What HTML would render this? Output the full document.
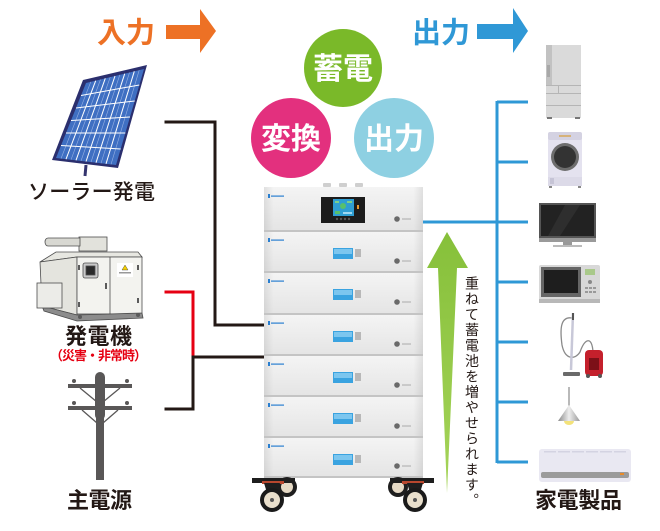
<!DOCTYPE html>
<html><head><meta charset="utf-8"><style>
html,body{margin:0;padding:0;background:#fff;}
#c{position:relative;width:660px;height:531px;overflow:hidden;font-family:"Liberation Sans","Noto Sans CJK JP",sans-serif;}
svg{position:absolute;left:0;top:0;}
.vt{position:absolute;left:464px;top:276px;writing-mode:vertical-rl;font-size:14px;letter-spacing:1.5px;line-height:16px;color:#231815;font-family:"Liberation Sans","Noto Sans CJK JP",sans-serif;}
</style></head><body><div id="c">
<svg width="660" height="531" viewBox="0 0 660 531" xmlns="http://www.w3.org/2000/svg" font-family="Liberation Sans, Noto Sans CJK JP, sans-serif">
<defs>
<linearGradient id="mod" x1="0" y1="0" x2="0" y2="1"><stop offset="0" stop-color="#f4f4f4"/><stop offset="1" stop-color="#e4e4e4"/></linearGradient>
<linearGradient id="modh" x1="0" y1="0" x2="1" y2="0"><stop offset="0" stop-color="#000" stop-opacity="0.08"/><stop offset="0.06" stop-color="#000" stop-opacity="0"/><stop offset="0.94" stop-color="#000" stop-opacity="0"/><stop offset="1" stop-color="#000" stop-opacity="0.08"/></linearGradient>
<linearGradient id="shade" x1="0" y1="0" x2="1" y2="0"><stop offset="0" stop-color="#8a8a8a"/><stop offset="0.5" stop-color="#eee"/><stop offset="1" stop-color="#9a9a9a"/></linearGradient>
<linearGradient id="arr" x1="0" y1="0" x2="0" y2="1"><stop offset="0" stop-color="#86c03a"/><stop offset="1" stop-color="#a6d45a"/></linearGradient>
</defs>

<text x="97" y="42.5" font-size="29" font-weight="bold" fill="#ed7125" textLength="58">入力</text>
<polygon points="166,25 200,25 200,9 216,31 200,53 200,39 166,39" fill="#ed7125"/>
<text x="412" y="42.5" font-size="29" font-weight="bold" fill="#2f98d6" textLength="58">出力</text>
<polygon points="477,24 513,24 513,8 528,31 513,53 513,39 477,39" fill="#2f98d6"/>

<circle cx="343" cy="68" r="39" fill="#7ab929"/>
<text x="343" y="79" font-size="30" font-weight="bold" fill="#fff" text-anchor="middle">蓄電</text>
<circle cx="291" cy="138" r="40" fill="#e3307e"/>
<text x="291" y="149" font-size="30" font-weight="bold" fill="#fff" text-anchor="middle">変換</text>
<circle cx="394" cy="138" r="40" fill="#8ed0e2"/>
<text x="394" y="149" font-size="30" font-weight="bold" fill="#fff" text-anchor="middle">出力</text>

<line x1="86" y1="165" x2="85" y2="176" stroke="#34346e" stroke-width="3"/>
<polygon points="83,80 147,65 118,168 52,160" fill="#2b2f6e"/>
<polygon points="86,83 144,69 116,165 56,158" fill="#3f6fc2"/>
<g stroke="#dfe8ff" stroke-width="0.6" opacity="0.55">
<line x1="90.8" y1="81.8" x2="61" y2="158.6"/><line x1="100.5" y1="79.5" x2="71" y2="159.8"/><line x1="110.2" y1="77.2" x2="81" y2="160.9"/><line x1="119.8" y1="74.8" x2="91" y2="162.1"/><line x1="129.5" y1="72.5" x2="101" y2="163.3"/><line x1="139.2" y1="70.2" x2="111" y2="164.4"/>
</g>
<g stroke="#ffffff" stroke-width="1">
<line x1="95.7" y1="80.7" x2="66" y2="159.2"/><line x1="105.3" y1="78.3" x2="76" y2="160.3"/><line x1="115" y1="76" x2="86" y2="161.5"/><line x1="124.7" y1="73.7" x2="96" y2="162.7"/><line x1="134.3" y1="71.3" x2="106" y2="163.8"/>
<line x1="81" y1="95.5" x2="139.3" y2="85"/><line x1="76" y1="108" x2="134.7" y2="101"/><line x1="71" y1="120.5" x2="130" y2="117"/><line x1="66" y1="133" x2="125.3" y2="133"/><line x1="61" y1="145.5" x2="120.7" y2="149"/>
</g>
<text x="28" y="199" font-size="21" font-weight="500" fill="#231815" textLength="127">ソーラー発電</text>

<g stroke="#4d4d4d" stroke-width="0.8">
<rect x="79" y="237" width="28" height="14" fill="#e2e2dc"/>
<path d="M48 238 h32 v8 h-32 a3 4 0 0 1 0 -8z" fill="#d8d8d2"/>
<polygon points="40,262 56,252 138,252 142,257 77,257" fill="#e7e7e1"/>
<polygon points="40,262 77,257 77,315 42,306" fill="#e4e4de"/>
<rect x="77" y="257" width="65" height="57" fill="#f3f3ef"/>
<polygon points="42,306 77,315 142,313 143,318 77,321 44,311" fill="#8c8c8c"/>
<rect x="37" y="283" width="25" height="25" fill="#ececE8"/>
<line x1="110" y1="257" x2="110" y2="314"/>
<rect x="83" y="263" width="15" height="15" rx="2" fill="#c9c9c9"/>
<rect x="86" y="266" width="9" height="9" fill="#2a2a2a"/>
<rect x="117" y="263" width="16" height="14" fill="#fff" stroke="none"/>
</g>
<polygon points="125,265 128,270 122,270" fill="#f5d000" stroke="#333" stroke-width="0.4"/>
<rect x="119" y="272" width="12" height="1.5" fill="#999"/>
<g fill="#5a5a5a"><rect x="78" y="265" width="2" height="5"/><rect x="78" y="302" width="2" height="5"/><rect x="137" y="265" width="2" height="5"/><rect x="137" y="298" width="2" height="5"/><rect x="105" y="283" width="2" height="6"/><circle cx="80" cy="317" r="2"/><circle cx="138" cy="315" r="2"/></g>
<text x="98.5" y="344" font-size="22" font-weight="bold" fill="#231815" text-anchor="middle" textLength="67">発電機</text>
<text x="98.5" y="360" font-size="13" font-weight="bold" fill="#e60012" text-anchor="middle" textLength="97">（災害・非常時）</text>

<g fill="#595757" stroke="#595757">
<rect x="95" y="372" width="10" height="48" rx="5" stroke="none"/>
<rect x="96" y="410" width="8" height="70" stroke="none"/>
<rect x="68" y="384" width="64" height="4" stroke="none"/>
<rect x="68" y="406" width="64" height="4" stroke="none"/>
<line x1="80" y1="388" x2="97" y2="402" stroke-width="1.3"/><line x1="120" y1="388" x2="103" y2="402" stroke-width="1.3"/>
<line x1="82" y1="410" x2="97" y2="423" stroke-width="1.3"/><line x1="118" y1="410" x2="103" y2="423" stroke-width="1.3"/>
<circle cx="74" cy="381" r="2" stroke="none"/><circle cx="127" cy="381" r="2" stroke="none"/><circle cx="74" cy="403" r="2" stroke="none"/><circle cx="127" cy="403" r="2" stroke="none"/>
</g>
<text x="99.5" y="508" font-size="22" font-weight="bold" fill="#231815" text-anchor="middle" textLength="65">主電源</text>

<g fill="none" stroke-width="3" stroke-linecap="square">
<polyline points="166,122 215,122 215,325 264,325" stroke="#231815"/>
<polyline points="166,292 193,292 193,357" stroke="#e60012"/>
<polyline points="193,357 264,357" stroke="#231815"/>
<polyline points="193,357 193,409 166,409" stroke="#231815"/>
</g>

<g fill="#cfcfcf"><rect x="323" y="183" width="8" height="4" rx="1"/><rect x="339" y="183" width="8" height="4" rx="1"/><rect x="355" y="183" width="8" height="4" rx="1"/></g>
<g>
<rect x="264" y="187" width="159" height="45" fill="url(#mod)"/>
<rect x="264" y="232" width="159" height="41" fill="url(#mod)"/>
<rect x="264" y="273" width="159" height="42" fill="url(#mod)"/>
<rect x="264" y="315" width="159" height="41" fill="url(#mod)"/>
<rect x="264" y="356" width="159" height="41" fill="url(#mod)"/>
<rect x="264" y="397" width="159" height="41" fill="url(#mod)"/>
<rect x="264" y="438" width="159" height="40" fill="url(#mod)"/>
<rect x="264" y="187" width="159" height="291" fill="url(#modh)"/>
</g>
<g fill="#c4c4c4"><rect x="264" y="230" width="159" height="2"/><rect x="264" y="271" width="159" height="2"/><rect x="264" y="313" width="159" height="2"/><rect x="264" y="354" width="159" height="2"/><rect x="264" y="395" width="159" height="2"/><rect x="264" y="436" width="159" height="2"/><rect x="264" y="476" width="159" height="2"/></g>
<rect x="321" y="197" width="44" height="26" fill="#1c1c1c"/>
<rect x="333" y="199" width="21" height="17" fill="#2f9ed2"/>
<circle cx="343" cy="206" r="3" fill="#58c06a"/>
<rect x="335" y="201" width="4" height="2" fill="#7cd08a"/><rect x="347" y="201" width="5" height="2" fill="#7cd08a"/><rect x="335" y="211" width="5" height="3" fill="#58c06a"/><rect x="343" y="212" width="9" height="2" fill="#9fd8f0"/>
<rect x="357" y="205" width="2" height="4" fill="#e89a30"/>
<g fill="#555"><circle cx="337" cy="219" r="1.2"/><circle cx="341" cy="219" r="1.2"/><circle cx="345" cy="219" r="1.2"/><circle cx="349" cy="219" r="1.2"/></g>
<g fill="#2a7fd0">
<rect x="268" y="194" width="2" height="4"/><rect x="271" y="195.5" width="13" height="1.2"/>
<rect x="268" y="238" width="2" height="4"/><rect x="271" y="239.5" width="13" height="1.2"/>
<rect x="268" y="279" width="2" height="4"/><rect x="271" y="280.5" width="13" height="1.2"/>
<rect x="268" y="321" width="2" height="4"/><rect x="271" y="322.5" width="13" height="1.2"/>
<rect x="268" y="362" width="2" height="4"/><rect x="271" y="363.5" width="13" height="1.2"/>
<rect x="268" y="403" width="2" height="4"/><rect x="271" y="404.5" width="13" height="1.2"/>
<rect x="268" y="444" width="2" height="4"/><rect x="271" y="445.5" width="13" height="1.2"/>
</g>
<g>
<circle cx="397" cy="219" r="2.8" fill="#6a6a6a"/><rect x="402" y="218.5" width="9" height="1" fill="#aaa"/>
<circle cx="397" cy="261" r="2.8" fill="#6a6a6a"/><rect x="402" y="260.5" width="9" height="1" fill="#aaa"/>
<circle cx="397" cy="302" r="2.8" fill="#6a6a6a"/><rect x="402" y="301.5" width="9" height="1" fill="#aaa"/>
<circle cx="397" cy="344" r="2.8" fill="#6a6a6a"/><rect x="402" y="343.5" width="9" height="1" fill="#aaa"/>
<circle cx="397" cy="385" r="2.8" fill="#6a6a6a"/><rect x="402" y="384.5" width="9" height="1" fill="#aaa"/>
<circle cx="397" cy="426" r="2.8" fill="#6a6a6a"/><rect x="402" y="425.5" width="9" height="1" fill="#aaa"/>
<circle cx="397" cy="466" r="2.8" fill="#6a6a6a"/><rect x="402" y="465.5" width="9" height="1" fill="#aaa"/>
</g>
<g>
<rect x="333" y="248" width="20" height="11" fill="#3aa3e0"/><rect x="334" y="249" width="18" height="5" fill="#7cc6ef"/>
<rect x="333" y="289" width="20" height="11" fill="#3aa3e0"/><rect x="334" y="290" width="18" height="5" fill="#7cc6ef"/>
<rect x="333" y="331" width="20" height="11" fill="#3aa3e0"/><rect x="334" y="332" width="18" height="5" fill="#7cc6ef"/>
<rect x="333" y="372" width="20" height="11" fill="#3aa3e0"/><rect x="334" y="373" width="18" height="5" fill="#7cc6ef"/>
<rect x="333" y="413" width="20" height="11" fill="#3aa3e0"/><rect x="334" y="414" width="18" height="5" fill="#7cc6ef"/>
<rect x="333" y="454" width="20" height="11" fill="#3aa3e0"/><rect x="334" y="455" width="18" height="5" fill="#7cc6ef"/>
</g>
<g fill="#b8b8b8">
<rect x="355" y="249" width="6" height="8"/><rect x="355" y="290" width="6" height="8"/><rect x="355" y="332" width="6" height="8"/><rect x="355" y="373" width="6" height="8"/><rect x="355" y="414" width="6" height="8"/><rect x="355" y="455" width="6" height="8"/>
</g>
<g>
<circle cx="287" cy="487" r="10" fill="#1e1e1e"/><circle cx="287" cy="487" r="6" fill="#e6dac6"/>
<circle cx="398" cy="487" r="10" fill="#1e1e1e"/><circle cx="398" cy="487" r="6" fill="#e6dac6"/>
<rect x="252" y="478" width="43" height="5" fill="#1e1e1e"/><rect x="262" y="481" width="22" height="3" fill="#b8472e"/>
<rect x="390" y="478" width="44" height="5" fill="#1e1e1e"/><rect x="402" y="481" width="22" height="3" fill="#b8472e"/>
<path d="M264 483 L280 483 L276 496 L268 496Z" fill="#1e1e1e"/>
<path d="M407 483 L423 483 L419 496 L411 496Z" fill="#1e1e1e"/>
<circle cx="272" cy="500" r="12" fill="#1a1a1a"/><circle cx="272" cy="500" r="8" fill="#e9dfcc"/><circle cx="272" cy="500" r="2" fill="#555"/>
<circle cx="415" cy="500" r="12" fill="#1a1a1a"/><circle cx="415" cy="500" r="8" fill="#e9dfcc"/><circle cx="415" cy="500" r="2" fill="#555"/>
</g>

<polygon points="447,232 468,268 457,268 447,493 438,268 427,268" fill="url(#arr)"/>

<g stroke="#2f98d6" stroke-width="3" fill="none">
<line x1="497" y1="101" x2="497" y2="463"/>
<line x1="497" y1="102" x2="528" y2="102"/>
<line x1="497" y1="162" x2="528" y2="162"/>
<line x1="423" y1="222" x2="528" y2="222"/>
<line x1="497" y1="282" x2="528" y2="282"/>
<line x1="497" y1="342" x2="528" y2="342"/>
<line x1="497" y1="402" x2="528" y2="402"/>
<line x1="497" y1="462" x2="528" y2="462"/>
</g>

<rect x="546" y="45" width="35" height="73" fill="#dadada"/>
<rect x="546" y="45" width="6" height="40" fill="#c2c2c2"/>
<rect x="547" y="65" width="3" height="12" fill="#a8a8a8"/>
<g fill="#b5b5b5"><rect x="546" y="85" width="35" height="1"/><rect x="546" y="93" width="35" height="1"/><rect x="546" y="105" width="35" height="1"/><rect x="558" y="85" width="1" height="8"/></g>
<rect x="547" y="117" width="5" height="2" fill="#777"/><rect x="575" y="117" width="5" height="2" fill="#777"/>
<rect x="548" y="132" width="34" height="54" rx="3" fill="#e4e2ef"/>
<rect x="548" y="132" width="34" height="8" rx="2" fill="#d4d2e2"/>
<rect x="559" y="135" width="12" height="2" fill="#d6b27a"/>
<circle cx="565" cy="157" r="14" fill="#6d6d6d"/>
<circle cx="565" cy="157" r="11" fill="#333"/>
<rect x="548" y="177" width="34" height="9" fill="#dcdae8"/>
<rect x="550" y="178" width="4" height="6" fill="#c6c4d6"/>
<rect x="549" y="186" width="3" height="2" fill="#888"/><rect x="578" y="186" width="3" height="2" fill="#888"/>
<rect x="539" y="203" width="57" height="37" fill="#555"/>
<rect x="541" y="205" width="53" height="31" fill="#222"/>
<polygon points="565,205 580,205 560,236 548,236" fill="#2e2e2e"/>
<rect x="539" y="238" width="57" height="4" fill="#9a9a9a"/>
<rect x="563" y="242" width="9" height="3" fill="#999"/>
<rect x="553" y="245" width="29" height="2" fill="#bbb"/>
<rect x="539" y="265" width="61" height="36" rx="2" fill="#d8d8d8"/>
<rect x="541" y="267" width="40" height="30" fill="#666"/>
<rect x="544" y="270" width="34" height="23" fill="#1e1e1e"/>
<rect x="585" y="269" width="10" height="6" fill="#a9c98a"/>
<circle cx="590" cy="282" r="2" fill="#888"/>
<g fill="#999"><rect x="585" y="287" width="3" height="2"/><rect x="589" y="287" width="3" height="2"/><rect x="593" y="287" width="3" height="2"/><rect x="585" y="291" width="3" height="2"/><rect x="589" y="291" width="3" height="2"/><rect x="593" y="291" width="3" height="2"/></g>
<rect x="539" y="299" width="61" height="4" fill="#b8b8b8"/>
<g fill="none" stroke="#8a8a8a" stroke-width="1.3">
<path d="M572 318 C 560 316 560 330 562 345 C 565 360 575 360 580 352 C 585 338 592 336 593 352"/>
</g>
<line x1="573" y1="313" x2="571" y2="370" stroke="#c8c8d8" stroke-width="2.5"/>
<line x1="573" y1="313" x2="573" y2="320" stroke="#555" stroke-width="2"/>
<rect x="563" y="372" width="17" height="4" rx="1" fill="#6a6a6a"/>
<rect x="585" y="350" width="18" height="26" rx="4" fill="#c4202c"/>
<rect x="589" y="358" width="10" height="12" fill="#7c1018"/>
<circle cx="588" cy="376" r="2" fill="#555"/><circle cx="600" cy="376" r="2" fill="#555"/>
<line x1="569" y1="387" x2="569" y2="406" stroke="#8a8a8a" stroke-width="1.2"/>
<polygon points="569,405 580,421 558,421" fill="url(#shade)"/>
<path d="M564 421 a5 4 0 0 0 10 0z" fill="#f3e27a"/>
<rect x="539" y="449" width="92" height="33" rx="3" fill="#e9e8f2"/>
<g fill="#d4d3e2"><rect x="544" y="451" width="12" height="1.5"/><rect x="558" y="451" width="12" height="1.5"/><rect x="572" y="451" width="12" height="1.5"/><rect x="586" y="451" width="12" height="1.5"/><rect x="600" y="451" width="12" height="1.5"/><rect x="614" y="451" width="12" height="1.5"/></g>
<rect x="541" y="472" width="88" height="6" rx="2" fill="#9b9b9b"/>
<rect x="620" y="473" width="4" height="2" fill="#e88a2a"/>
<text x="578.5" y="508" font-size="22" font-weight="bold" fill="#231815" text-anchor="middle" textLength="87">家電製品</text>
</svg>
<div class="vt">重ねて蓄電池を増やせられます。</div>
</div></body></html>
